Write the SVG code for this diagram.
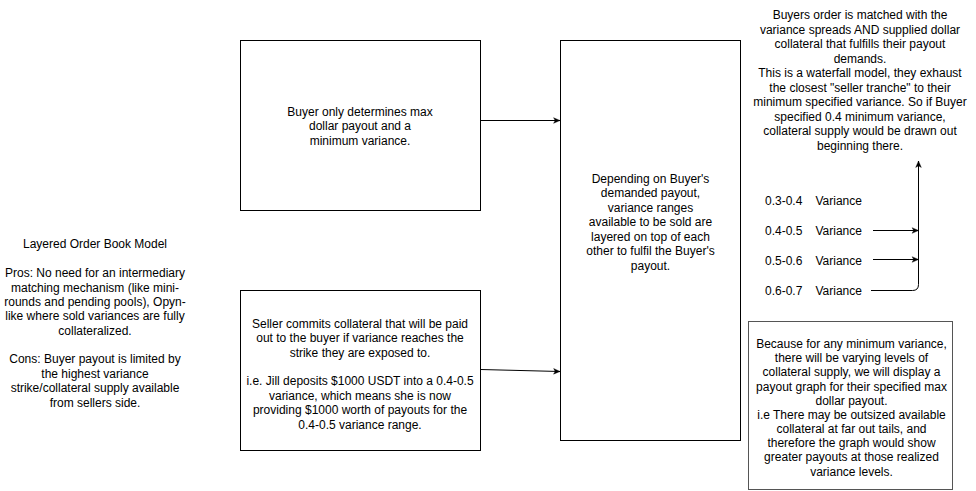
<svg xmlns="http://www.w3.org/2000/svg" width="976" height="491" viewBox="0 0 976 491">
<style>
text{font-family:"Liberation Sans",Arial,sans-serif;font-size:12px;fill:#000;text-anchor:middle}
.box{fill:#fff;stroke:#000;stroke-width:1}
.edge{fill:none;stroke:#000;stroke-width:1}
.l{text-anchor:start}
</style>
<defs>
<marker id="arr" viewBox="0 0 10 10" refX="9" refY="5" markerWidth="8" markerHeight="8" markerUnits="userSpaceOnUse" orient="auto">
<path d="M1,1.5 L9,5 L1,8.5 L3,5 Z" fill="#000" stroke="#000" stroke-width="0.5"/>
</marker>
</defs>
<rect width="976" height="491" fill="#fff"/>
<g id="notes-left">
<text x="95" y="248">Layered Order Book Model</text>
<text x="95" y="277">Pros: No need for an intermediary</text>
<text x="95" y="291.5">matching mechanism (like mini-</text>
<text x="95" y="306">rounds and pending pools), Opyn-</text>
<text x="95" y="320">like where sold variances are fully</text>
<text x="95" y="334.5">collateralized.</text>
<text x="95" y="363">Cons: Buyer payout is limited by</text>
<text x="95" y="377.5">the highest variance</text>
<text x="95" y="392">strike/collateral supply available</text>
<text x="95" y="406.5">from sellers side.</text>
</g>
<g id="buyer">
<rect class="box" x="240.5" y="40.5" width="240" height="170"/>
<text x="360" y="115.5">Buyer only determines max</text>
<text x="360" y="130">dollar payout and a</text>
<text x="360" y="144.5">minimum variance.</text>
</g>
<g id="seller">
<rect class="box" x="240.5" y="290.5" width="240" height="160"/>
<text x="360" y="327.5">Seller commits collateral that will be paid</text>
<text x="360" y="342">out to the buyer if variance reaches the</text>
<text x="360" y="356.5">strike they are exposed to.</text>
<text x="360" y="385">i.e. Jill deposits $1000 USDT into a 0.4-0.5</text>
<text x="360" y="399.5">variance, which means she is now</text>
<text x="360" y="414">providing $1000 worth of payouts for the</text>
<text x="360" y="428.5">0.4-0.5 variance range.</text>
</g>
<g id="layering">
<rect class="box" x="560.5" y="40.5" width="180" height="400"/>
<text x="650.5" y="182.5">Depending on Buyer's</text>
<text x="650.5" y="197">demanded payout,</text>
<text x="650.5" y="211.5">variance ranges</text>
<text x="650.5" y="226">available to be sold are</text>
<text x="650.5" y="240.5">layered on top of each</text>
<text x="650.5" y="255">other to fulfil the Buyer's</text>
<text x="650.5" y="269.5">payout.</text>
</g>
<g id="matching">
<text x="860" y="19">Buyers order is matched with the</text>
<text x="860" y="33.5">variance spreads AND supplied dollar</text>
<text x="860" y="48">collateral that fulfills their payout</text>
<text x="860" y="62.5">demands.</text>
<text x="860" y="77">This is a waterfall model, they exhaust</text>
<text x="860" y="91.5">the closest "seller tranche" to their</text>
<text x="860" y="106">minimum specified variance. So if Buyer</text>
<text x="860" y="120.5">specified 0.4 minimum variance,</text>
<text x="860" y="135">collateral supply would be drawn out</text>
<text x="860" y="149.5">beginning there.</text>
</g>
<g id="v03"><text class="l" x="765" y="205">0.3-0.4</text><text class="l" x="815.5" y="205">Variance</text></g>
<g id="v04"><text class="l" x="765" y="235">0.4-0.5</text><text class="l" x="815.5" y="235">Variance</text></g>
<g id="v05"><text class="l" x="765" y="265">0.5-0.6</text><text class="l" x="815.5" y="265">Variance</text></g>
<g id="v06"><text class="l" x="765" y="295">0.6-0.7</text><text class="l" x="815.5" y="295">Variance</text></g>
<g id="graph-note">
<rect x="748.5" y="321.5" width="204" height="168" fill="#fff" stroke="#555" stroke-width="1"/>
<text x="851.5" y="347.5">Because for any minimum variance,</text>
<text x="851.5" y="362">there will be varying levels of</text>
<text x="851.5" y="376">collateral supply, we will display a</text>
<text x="851.5" y="390.5">payout graph for their specified max</text>
<text x="851.5" y="404.5">dollar payout.</text>
<text x="851.5" y="418.5">i.e There may be outsized available</text>
<text x="851.5" y="432.5">collateral at far out tails, and</text>
<text x="851.5" y="447">therefore the graph would show</text>
<text x="851.5" y="461">greater payouts at those realized</text>
<text x="851.5" y="475.5">variance levels.</text>
</g>
<g id="connectors">
<path class="edge" d="M480.5,120.5 L560,120.5" marker-end="url(#arr)"/>
<path class="edge" d="M480.5,369.5 L560,371.5" marker-end="url(#arr)"/>
<path class="edge" d="M873,230.5 L918.5,230.5" marker-end="url(#arr)"/>
<path class="edge" d="M873,259.5 L918.5,259.5" marker-end="url(#arr)"/>
<path class="edge" d="M871,290.5 L912.5,290.5 Q918.5,290.5 918.5,284.5 L918.5,161" marker-end="url(#arr)"/>
</g>
</svg>
